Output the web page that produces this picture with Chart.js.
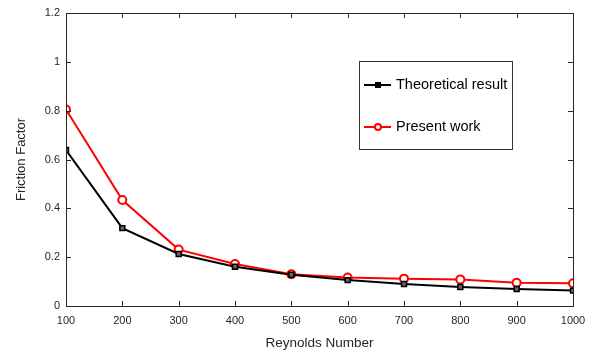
<!DOCTYPE html>
<html>
<head>
<meta charset="utf-8">
<script src="https://cdn.jsdelivr.net/npm/chart.js@4.4.1/dist/chart.umd.min.js"></script>
<style>
  html, body { margin: 0; padding: 0; background: #fff; }
  #wrap { width: 594px; height: 351px; position: relative; }
</style>
</head>
<body>
<div id="wrap"><canvas id="grafico"></canvas></div>
<script>
// --- DADOS ---
const reynolds = [100, 200, 300, 400, 500, 600, 700, 800, 900, 1000];
const teorico = [0.639, 0.319, 0.213, 0.161, 0.128, 0.106, 0.090, 0.078, 0.070, 0.063];
const presente = [0.805, 0.434, 0.231, 0.172, 0.130, 0.117, 0.112, 0.109, 0.095, 0.093];
const nomesSeries = ['Theoretical result', 'Present work'];
const tituloX = 'Reynolds Number';
const tituloY = 'Friction Factor';

const fonte = '"Liberation Sans", Arial, sans-serif';
const corEixo = '#262626';

// caixa em volta + ticks para dentro (estilo matlab) + legenda dentro do gráfico
const caixaPlugin = {
    id: 'caixa',
    afterDraw(chart) {
        const ctx = chart.ctx;
        const a = chart.chartArea;
        const sx = chart.scales.x, sy = chart.scales.y;
        ctx.save();
        ctx.strokeStyle = corEixo;
        ctx.lineWidth = 1;
        ctx.strokeRect(Math.round(a.left) + 0.5, Math.round(a.top) + 0.5,
            Math.round(a.right - a.left), Math.round(a.bottom - a.top));
        ctx.beginPath();
        sx.ticks.forEach(t => {
            const x = Math.round(sx.getPixelForValue(t.value)) + 0.5;
            ctx.moveTo(x, a.bottom); ctx.lineTo(x, a.bottom - 5);
            ctx.moveTo(x, a.top); ctx.lineTo(x, a.top + 5);
        });
        sy.ticks.forEach(t => {
            const y = Math.round(sy.getPixelForValue(t.value)) + 0.5;
            ctx.moveTo(a.left, y); ctx.lineTo(a.left + 5, y);
            ctx.moveTo(a.right, y); ctx.lineTo(a.right - 5, y);
        });
        ctx.stroke();

        // legenda
        const lx = 359, ly = 61, lw = 153, lh = 88;
        ctx.fillStyle = '#fff';
        ctx.fillRect(lx, ly, lw, lh);
        ctx.strokeStyle = '#333';
        ctx.strokeRect(lx + 0.5, ly + 0.5, lw, lh);
        ctx.font = '14.5px ' + fonte;
        ctx.textBaseline = 'middle';
        chart.data.datasets.forEach((ds, i) => {
            const y = ly + 24 + i * 42;
            ctx.strokeStyle = ds.borderColor;
            ctx.lineWidth = 2;
            ctx.beginPath();
            ctx.moveTo(lx + 5, y); ctx.lineTo(lx + 32, y);
            ctx.stroke();
            if (ds.pointStyle === 'rect') {
                ctx.fillStyle = ds.borderColor;
                ctx.fillRect(lx + 16, y - 3, 6, 6);
            } else {
                ctx.beginPath();
                ctx.arc(lx + 19, y, 3, 0, Math.PI * 2);
                ctx.fillStyle = '#fff';
                ctx.fill();
                ctx.stroke();
            }
            ctx.fillStyle = '#000';
            ctx.fillText(ds.label, lx + 37, y);
        });
        ctx.restore();
    }
};

const ctx = document.getElementById('grafico').getContext('2d');
new Chart(ctx, {
    type: 'line',
    data: {
        datasets: [
            {
                label: nomesSeries[0],
                data: reynolds.map((r, i) => ({ x: r, y: teorico[i] })),
                borderColor: '#000000',
                backgroundColor: '#1a1a1a',
                borderWidth: 2,
                pointStyle: 'rect',
                pointRadius: 3.5,
                pointBorderWidth: 1.5,
                pointBackgroundColor: '#666',
                tension: 0
            },
            {
                label: nomesSeries[1],
                data: reynolds.map((r, i) => ({ x: r, y: presente[i] })),
                borderColor: '#ff0000',
                backgroundColor: '#fff',
                borderWidth: 2,
                pointStyle: 'circle',
                pointRadius: 4,
                pointBorderWidth: 2,
                pointBackgroundColor: '#fff',
                tension: 0
            }
        ]
    },
    options: {
        responsive: true,
        maintainAspectRatio: false,
        animation: false,
        layout: { padding: { left: 0, right: 21, top: 13, bottom: 0 } },
        plugins: { legend: { display: false }, tooltip: { enabled: false } },
        scales: {
            x: {
                type: 'linear',
                min: 100, max: 1000,
                ticks: { stepSize: 100, color: corEixo, font: { family: fonte, size: 11 }, padding: 8, maxRotation: 0,
                    callback: v => String(v) },
                grid: { display: false, drawTicks: false },
                border: { display: false },
                title: { display: true, text: tituloX, color: corEixo, font: { family: fonte, size: 13.5 }, padding: { top: 0, bottom: 0 } },
                afterFit(s) { s.height = 45; }
            },
            y: {
                min: 0, max: 1.2,
                ticks: { stepSize: 0.2, color: corEixo, font: { family: fonte, size: 11 }, padding: 6,
                    callback: v => String(Math.round(v * 10) / 10) },
                grid: { display: false, drawTicks: false },
                border: { display: false },
                title: { display: true, text: tituloY, color: corEixo, font: { family: fonte, size: 13 }, padding: { top: 14, bottom: 0 } },
                afterFit(s) { s.width = 66; }
            }
        }
    },
    plugins: [caixaPlugin]
});
</script>
</body>
</html>
